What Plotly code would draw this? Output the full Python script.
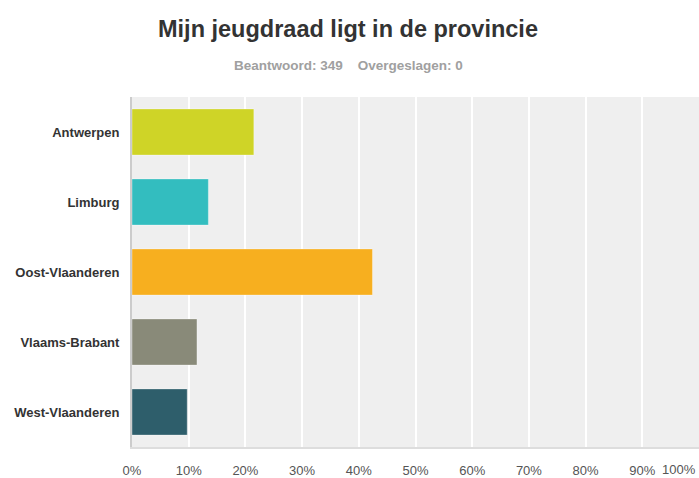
import plotly.graph_objects as go

categories = ["Antwerpen", "Limburg", "Oost-Vlaanderen", "Vlaams-Brabant", "West-Vlaanderen"]
values = [21.49, 13.47, 42.41, 11.46, 9.74]
colors = ["#CFD427", "#33BDBF", "#F7AF1F", "#898A79", "#2E5E6B"]
tick_vals = [0, 10, 20, 30, 40, 50, 60, 70, 80, 90]
tick_text = [f"{v}%" for v in tick_vals]

fig = go.Figure(go.Bar(
    x=values, y=categories, orientation="h",
    marker=dict(color=colors, line=dict(color="rgba(255,255,255,0.35)", width=1)),
    hoverinfo="x+y",
))

pw = 699 - 132
ph = 478 - 97 - 26

def px2paper(px, py):
    return (px - 132) / pw, (478 - 26 - py) / ph

tx, ty = px2paper(348, 28)
sx, sy = px2paper(348, 65)
fx, fy = px2paper(698, 470)

fig.update_layout(
    width=699, height=478,
    margin=dict(l=132, r=0, t=97, b=26),
    paper_bgcolor="white", plot_bgcolor="#EFEFEF",
    bargap=0.34,
    showlegend=False,
    font=dict(family="Liberation Sans, Arial, sans-serif"),
    annotations=[
        dict(text="<b>Mijn jeugdraad ligt in de provincie</b>", x=tx, y=ty,
             xref="paper", yref="paper", showarrow=False, xanchor="center", yanchor="middle",
             font=dict(size=23.5, color="#333333")),
        dict(text="<b>Beantwoord: 349&nbsp;&nbsp;&nbsp;&nbsp;Overgeslagen: 0</b>", x=sx, y=sy,
             xref="paper", yref="paper", showarrow=False, xanchor="center", yanchor="middle",
             font=dict(size=13.5, color="#A0A0A0")),
        dict(text="100%", x=fx, y=fy, xref="paper", yref="paper", showarrow=False,
             xanchor="right", yanchor="middle", yshift=-5,
             font=dict(size=13, color="#555555")),
    ],
)

fig.update_xaxes(
    range=[0, 100], tickvals=tick_vals, ticktext=tick_text,
    showgrid=True, gridcolor="white", gridwidth=2,
    zeroline=False, showline=True, linecolor="#DDDDDD", linewidth=2,
    tickfont=dict(size=13, color="#555555"), ticks="", ticklabelstandoff=10,
    fixedrange=True,
)
fig.update_yaxes(
    autorange="reversed", showgrid=False, zeroline=False,
    showline=True, linecolor="#CCCCCC", linewidth=2,
    tickfont=dict(size=13, color="#333333"), ticks="", ticklabelstandoff=8,
    tickvals=categories, ticktext=[f"<b>{c}</b>" for c in categories],
)

fig.write_html("out.html")
